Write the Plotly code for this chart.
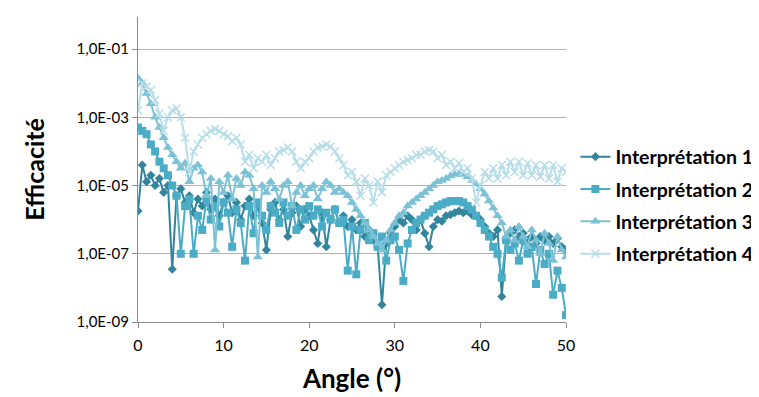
import plotly.graph_objects as go

angles = [i * 0.5 for i in range(101)]

interp1 = [1.8e-6, 4e-5, 1.3e-5, 2e-5, 1e-5, 1.6e-5, 6.3e-6, 1e-5, 3.5e-8, 5e-6,
           8e-6, 3.2e-6, 5e-6, 1.6e-6, 4e-6, 2.5e-6, 6.3e-6, 2e-6, 4e-6, 1.3e-6,
           3.2e-6, 5e-6, 1.6e-6, 3.2e-6, 1e-6, 2.5e-6, 4e-6, 1.3e-6, 2.5e-6, 8e-7,
           1.3e-7, 2e-6, 3.2e-6, 1e-6, 2e-6, 3.2e-7, 1.6e-6, 2.5e-6, 6.3e-7, 2e-6,
           1.3e-6, 5e-7, 2e-7, 1.6e-6, 1.6e-7, 1e-6, 2e-6, 8e-7, 1.3e-6, 6.3e-7,
           1e-6, 5e-7, 8e-7, 3.2e-7, 5e-7, 2.5e-7, 1.6e-7, 3.2e-9, 2e-7, 4e-7,
           6.3e-7, 1e-6, 8e-7, 1.3e-6, 1e-6, 5e-7, 1e-6, 4e-7, 1.6e-7, 6.3e-7,
           1e-6, 9e-7, 1.3e-6, 1.4e-6, 1.6e-6, 1.8e-6, 1.6e-6, 1.8e-6, 1.4e-6, 1.3e-6,
           1e-6, 6.3e-7, 4e-7, 3.2e-7, 5e-7, 5.6e-9, 2.5e-7, 4e-7, 5e-7, 3.2e-7,
           4e-7, 2.5e-7, 3.2e-7, 2e-7, 3.2e-7, 2.5e-7, 3.2e-7, 2e-7, 2.8e-7, 1.6e-7,
           1.3e-7]

interp2 = [5e-4, 4e-4, 3.2e-4, 1.6e-4, 1e-4, 5e-5, 3.2e-5, 2e-5, 1e-5, 5e-6,
           1e-7, 2.5e-6, 4e-6, 1e-7, 1.3e-6, 5e-7, 4e-6, 1e-6, 2.5e-6, 6.3e-7,
           3.2e-6, 1.6e-6, 1.6e-7, 2e-6, 8e-7, 6.3e-8, 2.5e-6, 4e-7, 3.2e-6, 1.3e-6,
           5e-7, 2.5e-6, 1.6e-6, 8e-7, 3.2e-6, 1.3e-6, 2.5e-6, 5e-7, 2e-6, 1e-6,
           2.5e-6, 1.3e-6, 2e-6, 6.3e-7, 1.6e-6, 1e-6, 2e-6, 8e-7, 1e-6, 3.2e-8,
           6.3e-7, 2.5e-8, 5e-7, 8e-7, 2.5e-7, 4e-7, 1.6e-7, 3.2e-7, 6.3e-8, 2.5e-7,
           3.2e-7, 1.3e-7, 1.6e-8, 2e-7, 5e-7, 8e-7, 1e-6, 1.3e-6, 1.6e-6, 2e-6,
           2.5e-6, 2.8e-6, 3.2e-6, 3.5e-6, 3.5e-6, 3.5e-6, 3.2e-6, 2.5e-6, 2e-6, 1.3e-6,
           8e-7, 5e-7, 3.2e-7, 1.6e-7, 1e-7, 2e-8, 2.5e-7, 1.3e-7, 2e-7, 6.3e-8,
           2.5e-7, 1e-7, 1.6e-7, 1.3e-8, 1.3e-7, 5e-8, 1e-7, 6.3e-9, 3.2e-8, 1e-8,
           1.6e-9]

interp3 = [1.4e-2, 1e-2, 5e-3, 2.5e-3, 1e-3, 5e-4, 2.5e-4, 1.3e-4, 8e-5, 5e-5,
           3.2e-5, 4.5e-5, 1.3e-5, 3.2e-5, 4e-5, 2.5e-5, 5e-6, 1.6e-5, 1.3e-7, 1.3e-5,
           6.3e-6, 2e-5, 4e-6, 1.6e-5, 1e-5, 2.5e-5, 2e-5, 8e-6, 8e-8, 1e-5,
           6.3e-6, 1.3e-5, 8e-6, 4e-6, 1e-5, 1.3e-5, 2.5e-6, 6.3e-6, 1e-5, 5e-6,
           8e-6, 1e-5, 4e-6, 8e-6, 1.3e-5, 1e-5, 6.3e-6, 8e-6, 6.3e-6, 5e-6,
           3.2e-6, 2e-6, 1.3e-6, 8e-7, 5e-7, 3.2e-7, 2e-7, 1.3e-7, 2.5e-7, 5e-7,
           8e-7, 1.3e-6, 1.6e-6, 2.5e-6, 3.2e-6, 4e-6, 5e-6, 6.3e-6, 8e-6, 1e-5,
           1.3e-5, 1.4e-5, 1.6e-5, 1.9e-5, 2.1e-5, 2.2e-5, 2.1e-5, 1.8e-5, 1.4e-5, 1.1e-5,
           8e-6, 5.6e-6, 3.5e-6, 2.2e-6, 1.3e-6, 8e-7, 3.2e-7, 5e-7, 2.5e-7, 6.3e-7,
           3.2e-7, 1.6e-7, 5e-7, 2.5e-7, 1e-7, 4e-7, 2e-7, 6.3e-8, 3.2e-7, 1.3e-7,
           8e-8]

interp4 = [1.6e-3, 1e-2, 8e-3, 6.3e-3, 3.2e-3, 1.3e-3, 4e-4, 1e-3, 1.6e-3, 1.8e-3,
           1e-3, 2.5e-4, 2.5e-5, 1e-4, 1.6e-4, 2.5e-4, 3.2e-4, 4e-4, 4.5e-4, 4e-4,
           3.2e-4, 2.8e-4, 2e-4, 2.5e-4, 1.6e-4, 5e-5, 8e-5, 3.2e-5, 6.3e-5, 5e-5,
           8e-5, 4e-5, 6.3e-5, 1e-4, 1.1e-4, 1.3e-4, 1e-4, 5e-5, 3.2e-5, 5e-5,
           6.3e-5, 1e-4, 1.3e-4, 1.4e-4, 1.6e-4, 1.4e-4, 1e-4, 6.3e-5, 4e-5, 2e-5,
           2.5e-5, 1.3e-5, 5e-6, 1.6e-5, 1e-5, 3.2e-6, 1.3e-5, 6.3e-6, 2e-5, 2.5e-5,
           3.2e-5, 4e-5, 5e-5, 5.6e-5, 6.3e-5, 8e-5, 8e-5, 1e-4, 1.1e-4, 1e-4,
           6.3e-5, 8e-5, 4e-5, 5e-5, 3.2e-5, 4.5e-5, 2.5e-5, 3.2e-5, 1.6e-5, 3.2e-6,
           1e-5, 2.5e-5, 1.6e-5, 3.2e-5, 1.6e-5, 4e-5, 2e-5, 5e-5, 2.5e-5, 5e-5,
           2e-5, 4.5e-5, 2e-5, 4e-5, 1.8e-5, 4e-5, 1.6e-5, 4e-5, 1.3e-5, 3.2e-5,
           2.5e-5]

series_names = ["Interprétation 1", "Interprétation 2", "Interprétation 3", "Interprétation 4"]
y_tick_vals = [1e-9, 1e-7, 1e-5, 1e-3, 1e-1]
y_tick_text = ["1,0E-09", "1,0E-07", "1,0E-05", "1,0E-03", "1,0E-01"]
x_tick_vals = [0, 10, 20, 30, 40, 50]

FONT = "Lato"
styles = [
    dict(color="#31859C", symbol="diamond", size=7),
    dict(color="#4BACC6", symbol="square", size=8),
    dict(color="#7CC2D6", symbol="triangle-up", size=9),
    dict(color="#B7DEE8", symbol="x-thin", size=8),
]

fig = go.Figure()
for name, ys, st, k in zip(series_names, [interp1, interp2, interp3, interp4], styles, range(4)):
    marker = dict(symbol=st["symbol"], size=st["size"], color=st["color"])
    if st["symbol"] == "x-thin":
        marker["line"] = dict(color=st["color"], width=1.5)
    fig.add_trace(go.Scatter(
        x=angles, y=ys, name=name, mode="lines+markers",
        line=dict(color=st["color"], width=2), marker=marker,
        legendgroup=f"g{k}",
    ))

fig.update_layout(
    width=759, height=397,
    margin=dict(l=130, r=201, t=9, b=83),
    paper_bgcolor="white", plot_bgcolor="white",
    font=dict(family=FONT, color="#000000"),
    legend=dict(x=1.022, y=0.382, xanchor="left", yanchor="middle",
                font=dict(family=FONT, size=19.5, color="#000000", weight="bold"),
                traceorder="grouped", tracegroupgap=4, itemwidth=30),
    showlegend=True,
)
fig.update_xaxes(
    range=[0, 50], tickvals=x_tick_vals, showgrid=False,
    showline=True, linecolor="#8C8C8C", linewidth=1,
    ticks="outside", ticklen=5, tickcolor="#8C8C8C",
    tickfont=dict(family=FONT, size=16, color="#000000"), ticklabelstandoff=4,
    title=dict(text="Angle (°)", font=dict(family=FONT, size=26, color="#000000", weight="bold"), standoff=16),
    zeroline=False,
)
fig.update_yaxes(
    type="log", range=[-9, -0.06], tickvals=y_tick_vals, ticktext=y_tick_text,
    showgrid=True, gridcolor="#B3B3B3", gridwidth=1,
    showline=True, linecolor="#8C8C8C", linewidth=1,
    ticks="outside", ticklen=5, tickcolor="#8C8C8C",
    tickfont=dict(family=FONT, size=15, color="#000000"),
    title=dict(text="Efficacité", font=dict(family=FONT, size=25, color="#000000", weight="bold"), standoff=24),
    zeroline=False,
)

fig.write_html("out.html")
